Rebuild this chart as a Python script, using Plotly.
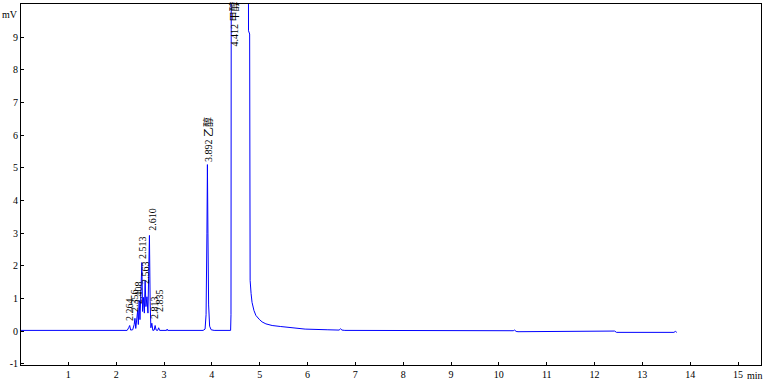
import plotly.graph_objects as go

# Chromatogram vertices (time in min, signal in mV)
time_min = [
    0.0, 1.0, 2.0, 2.188, 2.229, 2.261, 2.282, 2.303, 2.345, 2.376, 2.392, 2.409,
    2.434, 2.449, 2.463, 2.480, 2.497, 2.518, 2.537, 2.551, 2.570, 2.589, 2.605,
    2.622, 2.643, 2.664, 2.681, 2.695, 2.710, 2.725, 2.745, 2.766, 2.794, 2.814,
    2.835, 2.867, 2.888, 2.908, 3.055, 3.065, 3.076, 3.817, 3.858, 3.879, 3.897,
    3.907, 3.918, 3.932, 3.953, 3.985, 4.047, 4.392, 4.400, 4.406, 4.764, 4.766,
    4.790, 4.792, 4.800, 4.820, 4.840, 4.880, 4.920, 4.990, 5.050, 5.130, 5.260,
    5.430, 5.640, 5.950, 6.410, 6.660, 6.690, 6.720, 6.780, 7.500, 8.500, 10.300,
    10.330, 10.360, 10.400, 12.380, 12.420, 12.460, 13.660, 13.690, 13.720,
]
signal_mv = [
    0.02, 0.02, 0.02, 0.02, 0.02, 0.10, 0.17, 0.03, 0.04, 0.20, 0.39, 0.08,
    0.35, 0.63, 0.20, 0.94, 0.35, 1.20, 2.10, 0.60, 1.03, 0.55, 1.55,
    0.75, 1.05, 0.55, 1.80, 2.93, 0.90, 0.10, 0.24, 0.02, 0.03, 0.17,
    0.03, 0.02, 0.10, 0.02, 0.02, 0.06, 0.02, 0.02, 0.06, 0.50, 3.00,
    5.10, 3.00, 0.80, 0.15, 0.04, 0.02, 0.02, 0.50, 12.0, 12.0, 9.20,
    9.10, 2.20, 1.55, 1.15, 0.88, 0.63, 0.48, 0.36, 0.28, 0.22, 0.17,
    0.14, 0.10, 0.06, 0.04, 0.03, 0.07, 0.03, 0.02, 0.015, 0.01, 0.01,
    0.03, -0.01, -0.02, -0.02, 0.00, -0.04, -0.04, -0.01, -0.04,
]

# Peak labels (text, x position of label in min, y of label bottom in mV)
peak_labels = ["2.264", "2.356", "2.408", "2.513", "2.563", "2.610", "2.813",
               "2.835", "3.892 乙醇", "4.412 甲醇"]
label_x = [2.292, 2.397, 2.480, 2.564, 2.626, 2.752, 2.814, 2.919, 3.922, 4.455]
label_y = [0.27, 0.54, 0.79, 2.17, 1.40, 3.03, 0.33, 0.54, 5.14, 8.69]

x_ticks = list(range(1, 16))
y_ticks = list(range(-1, 10))

FONT = "Liberation Serif, Noto Sans CJK SC, serif"

fig = go.Figure()
fig.add_trace(go.Scatter(
    x=time_min, y=signal_mv, mode="lines",
    line=dict(color="#0000ff", width=1),
    cliponaxis=True, hoverinfo="skip", showlegend=False,
))

for txt, lx, ly in zip(peak_labels, label_x, label_y):
    fig.add_annotation(
        x=lx, y=ly, xref="x", yref="y", text=txt, showarrow=False,
        textangle=-90, xanchor="center", yanchor="bottom",
        font=dict(family=FONT, size=10, color="#000000"), borderpad=0,
    )

fig.add_annotation(x=-0.003, y=0.972, xref="paper", yref="paper", text="mV",
                   showarrow=False, xanchor="right", yanchor="middle",
                   font=dict(family=FONT, size=10, color="#000000"), borderpad=0)
fig.add_annotation(x=15.16, y=-0.028, xref="x", yref="paper", text="min",
                   showarrow=False, xanchor="left", yanchor="middle",
                   font=dict(family=FONT, size=10, color="#000000"), borderpad=0)

axis_common = dict(
    showline=True, mirror=True, linecolor="#000000", linewidth=1,
    ticks="inside", ticklen=3, tickcolor="#000000", tickwidth=1,
    showgrid=False, zeroline=False,
    tickfont=dict(family=FONT, size=10, color="#000000"),
)
fig.update_xaxes(range=[0.01, 15.48], tickvals=x_ticks,
                 ticktext=[str(v) for v in x_ticks], **axis_common)
fig.update_yaxes(range=[-1.04, 10.02], tickvals=y_ticks,
                 ticktext=[str(v) for v in y_ticks], **axis_common)

fig.update_layout(
    width=779, height=387,
    margin=dict(l=21, r=18, t=4, b=22, pad=0),
    plot_bgcolor="#ffffff", paper_bgcolor="#ffffff",
    showlegend=False,
)

fig.write_html("out.html")
